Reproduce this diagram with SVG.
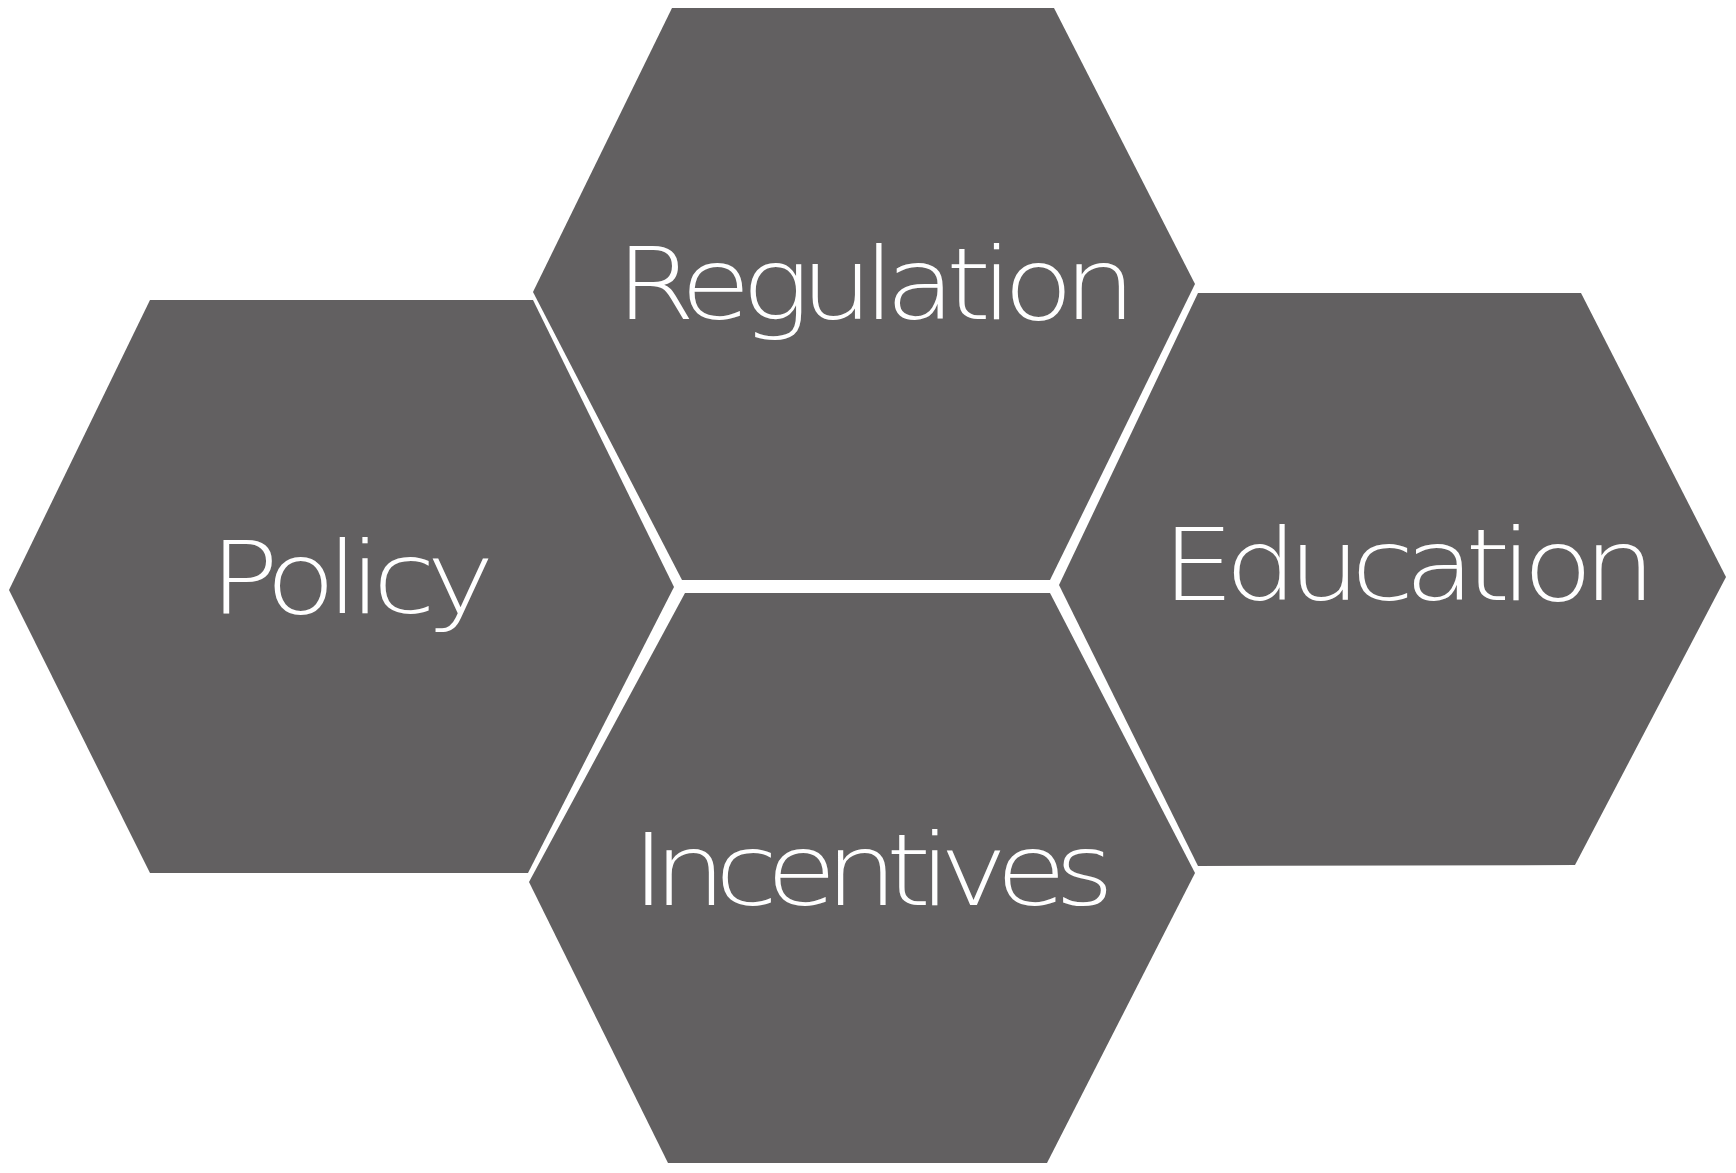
<svg xmlns="http://www.w3.org/2000/svg" width="1736" height="1173" viewBox="0 0 1736 1173">
  <style>
    .hex { fill: #626061; stroke: none; }
    .lbl { fill: #ffffff; font-family: "DejaVu Sans", "Liberation Sans", Arial, sans-serif; font-weight: 200; font-size: 100px; text-anchor: middle; }
  </style>
  <rect x="0" y="0" width="1736" height="1173" fill="#ffffff"/>
  <g id="connectors"></g>
  <g id="regulation">
    <polygon class="hex" points="672,8 1054,8 1195,284 1050,580 682,580 533,292"/>
    <text class="lbl" transform="translate(876,319) scale(1.15,1)" x="0" y="0" textLength="453" lengthAdjust="spacing">Regulation</text>
  </g>
  <g id="policy">
    <polygon class="hex" points="150,300 533,300 674,587 528,873 150,873 9,590"/>
    <text class="lbl" transform="translate(352,613) scale(1.15,1)" x="0" y="0" textLength="248" lengthAdjust="spacing">Policy</text>
  </g>
  <g id="education">
    <polygon class="hex" points="1198,293 1581,293 1726,577 1575,865 1198,866 1059,585"/>
    <text class="lbl" transform="translate(1409,600) scale(1.15,1)" x="0" y="0" textLength="430" lengthAdjust="spacing">Education</text>
  </g>
  <g id="incentives">
    <polygon class="hex" points="685,593 1050,593 1195,873 1047,1163 668,1163 529,882"/>
    <text class="lbl" transform="translate(873,905) scale(1.15,1)" x="0" y="0" textLength="420" lengthAdjust="spacing">Incentives</text>
  </g>
</svg>
